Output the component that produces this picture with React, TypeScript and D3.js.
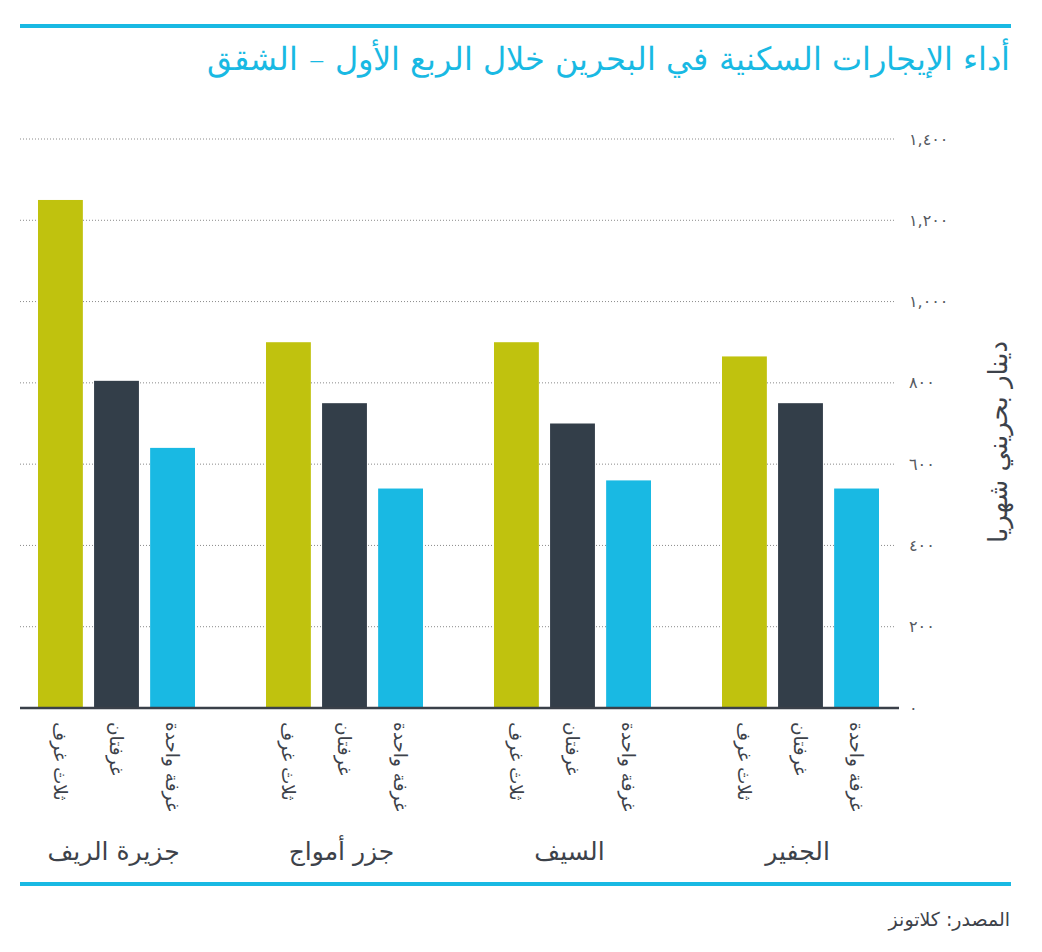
import React from "react";
import * as d3 from "d3";

const title = "أداء الإيجارات السكنية في البحرين خلال الربع الأول – الشقق";
const source = "المصدر: كلاتونز";
const yAxisTitle = "دينار بحريني شهريا";
const groups = ["جزيرة الريف", "جزر أمواج", "السيف", "الجفير"];
const roomTypes = ["ثلاث غرف", "غرفتان", "غرفة واحدة"];
const threeRooms = [1250, 900, 900, 865];
const twoRooms = [805, 750, 700, 750];
const oneRoom = [640, 540, 560, 540];
const seriesValues = [threeRooms, twoRooms, oneRoom];
const seriesColors = ["#c0c20e", "#333e49", "#19b9e3"];
const yTicks = [0, 200, 400, 600, 800, 1000, 1200, 1400];

const arabicDigits = "٠١٢٣٤٥٦٧٨٩";
const toArabic = (v: number) =>
  d3.format(",")(v).replace(/[0-9]/g, (c) => arabicDigits[+c]);

const FONT = "'DejaVu Sans', sans-serif";

export default function App() {
  const width = 1042;
  const height = 952;
  const y = d3.scaleLinear().domain([0, 1400]).range([708, 139]);
  const x0 = d3.scaleBand<string>().domain(groups).range([2.5, 914.5]).padding(0);
  const x1 = d3
    .scaleBand<string>()
    .domain(roomTypes)
    .range([35.5, 192.5])
    .paddingInner(0.2)
    .paddingOuter(0);

  return (
    <svg width={width} height={height} style={{ position: "absolute", left: 0, top: 0 }}>
      <rect width={width} height={height} fill="#ffffff" />
      <line x1={20} x2={1011} y1={26} y2={26} stroke="#19b9e3" strokeWidth={4} />
      <text
        x={1010}
        y={70}
        textAnchor="end"
        fontFamily={FONT}
        fontSize={32}
        fontWeight={300}
        fill="#19b9e3"
      >
        {title}
      </text>

      {yTicks.slice(1).map((t) => (
        <line
          key={"g" + t}
          x1={20}
          x2={895}
          y1={y(t)}
          y2={y(t)}
          stroke="#8a8a8a"
          strokeWidth={1}
          strokeDasharray="1 2"
        />
      ))}

      {groups.map((g, gi) => (
        <g key={g} transform={`translate(${x0(g)},0)`}>
          {roomTypes.map((r, ri) => {
            const v = seriesValues[ri][gi];
            return (
              <rect
                key={r}
                x={x1(r)}
                y={y(v)}
                width={x1.bandwidth()}
                height={y(0) - y(v)}
                fill={seriesColors[ri]}
              />
            );
          })}
          {roomTypes.map((r) => {
            const cx = (x1(r) as number) + x1.bandwidth() / 2;
            return (
              <text
                key={"l" + r}
                transform={`translate(${cx},${722}) rotate(90)`}
                textAnchor="start"
                dy="0.35em"
                fontFamily={FONT}
                fontSize={18.5}
                fill="#3d424a"
              >
                {r}
              </text>
            );
          })}
          <text
            x={x0.bandwidth() / 2 - 3}
            y={860}
            textAnchor="middle"
            fontFamily={FONT}
            fontSize={25}
            fill="#3d424a"
          >
            {g}
          </text>
        </g>
      ))}

      <line x1={20} x2={899} y1={y(0)} y2={y(0)} stroke="#3a4049" strokeWidth={2.5} />

      {yTicks.map((t) => (
        <text
          key={"t" + t}
          x={909}
          y={y(t)}
          dy="0.35em"
          textAnchor="start"
          fontFamily={FONT}
          fontSize={16}
          fill="#55595f"
        >
          {toArabic(t)}
        </text>
      ))}

      <text
        transform={`translate(998,${442}) rotate(-90)`}
        textAnchor="middle"
        dy="0.35em"
        fontFamily={FONT}
        fontSize={26}
        fill="#3d424a"
      >
        {yAxisTitle}
      </text>

      <line x1={20} x2={1011} y1={884} y2={884} stroke="#19b9e3" strokeWidth={4} />
      <text
        x={1010}
        y={926}
        textAnchor="end"
        fontFamily={FONT}
        fontSize={19}
        fill="#3d424a"
      >
        {source}
      </text>
    </svg>
  );
}
